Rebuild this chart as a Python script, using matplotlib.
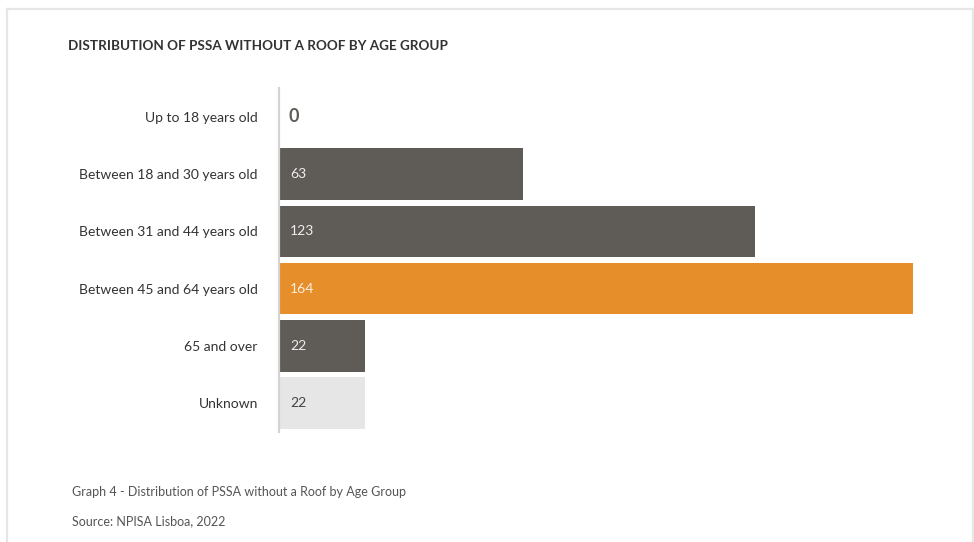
import matplotlib
matplotlib.use("Agg")
import matplotlib.pyplot as plt
from matplotlib.lines import Line2D

plt.rcParams["font.family"] = ["Lato", "DejaVu Sans"]

categories = ["Up to 18 years old", "Between 18 and 30 years old", "Between 31 and 44 years old",
              "Between 45 and 64 years old", "65 and over", "Unknown"]
values = [0, 63, 123, 164, 22, 22]
bar_colors = ["#5f5b56", "#5f5b56", "#5f5b56", "#e68e29", "#5f5b56", "#e6e6e6"]
label_colors = ["#5f5b56", "#eeeeee", "#eeeeee", "#fbeee0", "#eeeeee", "#444444"]

W, H = 974, 542
fig = plt.figure(figsize=(W / 100, H / 100), dpi=100)
fig.patch.set_facecolor("white")

# light frame around the card (top, left, right)
for xs, ys in [((7 / W, 7 / W), (0, 1 - 8.5 / H)),
               ((7 / W, 972.5 / W), (1 - 8.5 / H, 1 - 8.5 / H)),
               ((972.5 / W, 972.5 / W), (0, 1 - 8.5 / H))]:
    fig.add_artist(Line2D(xs, ys, color="#e6e6e6", lw=1.6, transform=fig.transFigure))

ax = fig.add_axes([280 / W, 1 - 431.6 / H, 633 / W, (431.6 - 88.4) / H])
ypos = list(range(len(categories)))
ax.barh(ypos, values, height=0.9, color=bar_colors, zorder=2)
ax.set_xlim(0, max(values))
ax.set_ylim(len(categories) - 0.5, -0.5)

for s in ("top", "right", "bottom"):
    ax.spines[s].set_visible(False)
ax.spines["left"].set_color("#d4d4d4")
ax.spines["left"].set_linewidth(1.6)
ax.spines["left"].set_position(("outward", 1))
ax.set_xticks([])
ax.set_yticks(ypos)
ax.set_yticklabels(categories, fontsize=10, color="#333333")
ax.tick_params(axis="y", length=0, pad=15)

for y, v, c in zip(ypos, values, label_colors):
    if v == 0:
        ax.text(2.3, y, str(v), va="center", ha="left", fontsize=13, fontweight="bold", color=c)
    else:
        ax.text(2.6, y, str(v), va="center", ha="left", fontsize=10, color=c)

fig.text(68 / W, 1 - 46 / H, "DISTRIBUTION OF PSSA WITHOUT A ROOF BY AGE GROUP",
         fontsize=9.7, fontweight="bold", color="#333333", va="center", ha="left")
fig.text(72 / W, 1 - 492 / H, "Graph 4 - Distribution of PSSA without a Roof by Age Group",
         fontsize=9, color="#555555", va="center", ha="left")
fig.text(72 / W, 1 - 521 / H, "Source: NPISA Lisboa, 2022",
         fontsize=9, color="#555555", va="center", ha="left")

fig.savefig("out.png", dpi=100, facecolor="white")
